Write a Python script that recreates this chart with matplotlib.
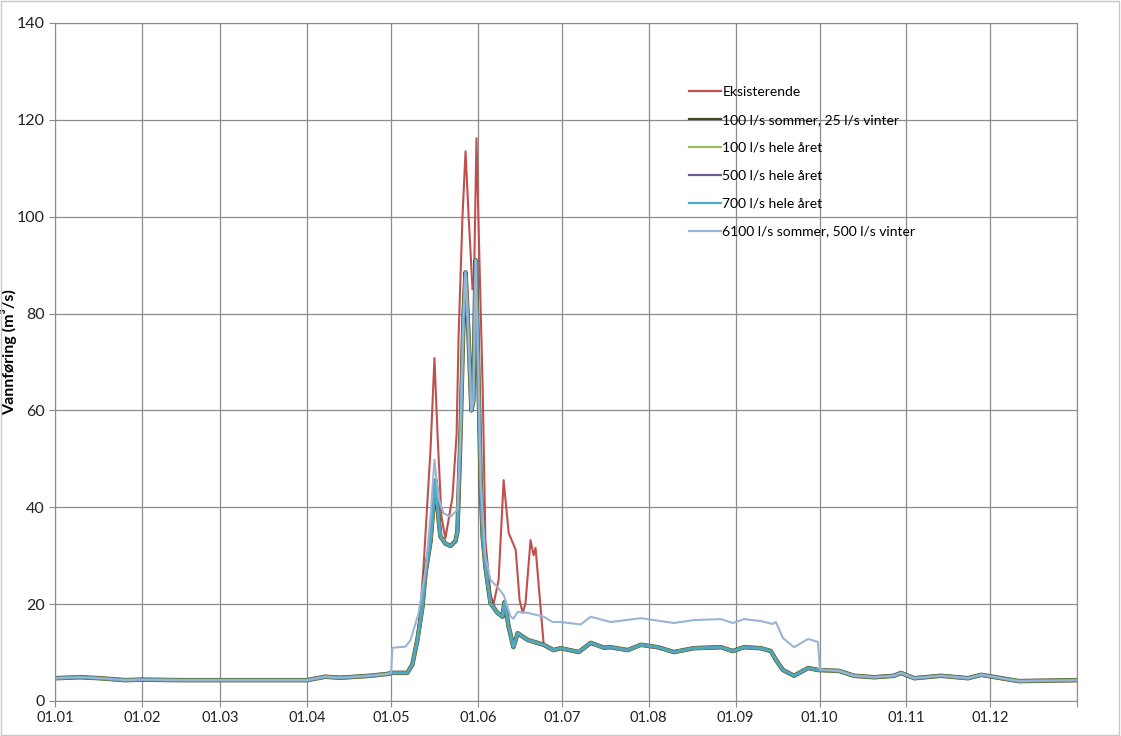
import numpy as np
import matplotlib
matplotlib.use("Agg")
import matplotlib.pyplot as plt
from matplotlib.patches import Rectangle

# day of year and flow (m3/s) shared by the regulated alternatives
base_day = [0, 8.9, 16, 25, 31, 44.7, 59, 73.3, 90, 96.5, 101.9, 112.6, 119, 120,
            125.8, 127.6, 129.4, 131.2, 132.3, 134.1, 135.1, 135.9, 136.9, 137.6,
            139.4, 141.2, 143, 143.7, 144.8, 145.9, 146.6, 147.7, 148.7, 149.4,
            150.2, 150.9, 152, 152.7, 153.7, 155.5, 158, 159.8, 160.5, 162, 163.7,
            165.2, 168.8, 174.5, 178, 180.5, 187, 191.3, 196, 198.4, 204.5, 209.2,
            215.2, 221, 228.1, 237.8, 242, 246, 252, 255.6, 257.4, 259.9, 263.9,
            268.9, 272.4, 280, 285.3, 292.5, 299.6, 302, 306.8, 316.4, 326, 330.7,
            337.9, 344, 365]
base_flow = [4.7, 4.9, 4.7, 4.3, 4.4, 4.3, 4.3, 4.3, 4.3, 5.0, 4.8, 5.2, 5.6, 5.8,
             5.8, 7.5, 12.6, 19.4, 26.4, 33, 40, 45.5, 38, 34,
             32.5, 32, 33, 35, 55, 80, 88.5, 75, 60, 62,
             91, 75, 45, 34, 27.7, 20.2, 18.2, 17.4, 20.4, 15.3, 11.1,
             14, 12.6, 11.6, 10.5, 10.9, 10.1, 12, 11, 11.1, 10.5, 11.6,
             11.1, 10.1, 10.9, 11.1, 10.3, 11.1, 10.9, 10.3, 8.5, 6.4, 5.2,
             6.8, 6.4, 6.2, 5.2, 4.9, 5.2, 5.8, 4.7, 5.2, 4.7, 5.4,
             4.7, 4.1, 4.3]

# existing situation, only where it departs from the regulated curve
red_day = [127.6, 129.4, 130.5, 131.6, 134.1, 135.5, 136.6, 138, 139.4, 141.9,
           143.4, 144.1, 145.5, 146.6, 147.7, 149.1, 149.6, 150.5, 151.6, 152.7,
           153.7, 155.5, 156.6, 158.4, 160.2, 162, 164.5, 165.9, 167, 168,
           169.8, 170.9, 171.6, 174.5]
red_flow = [7.5, 13, 19, 27.7, 52, 70.8, 55, 38, 33.6, 42,
            55, 75, 100, 113.5, 100, 85, 86, 116.2, 90, 65,
            33, 22, 20, 25, 45.6, 34.7, 31.2, 20.8, 18.2, 20.2,
            33.2, 30.1, 31.6, 11.6]

# 6100 l/s summer alternative, where it departs from the regulated curve
hi_day = [120, 120.5, 125.1, 126.9, 129.8, 132.3, 134.1, 135.5, 136.9, 138.7,
          141.2, 143.7, 144.8, 145.9, 146.6, 147.7, 148.7, 149.4, 150.2, 150.9,
          152, 153.7, 155.5, 158, 160.2, 162.7, 163.7, 165.2, 168.8, 174.5,
          177.7, 180.5, 187.7, 191.3, 198.4, 209.2, 221, 228.1, 237.8, 242,
          246, 252, 256.3, 257.4, 259.9, 263.9, 268.9, 272.4, 273.1]
hi_flow = [5.8, 11, 11.2, 12.5, 18, 27, 38, 49.8, 42, 38.8,
           38, 39.5, 55, 80, 88.5, 75, 60, 62, 91, 75,
           45, 29.7, 25, 23.5, 21.9, 17.4, 17, 18.4, 18.2, 17.4,
           16.3, 16.3, 15.8, 17.4, 16.3, 17.1, 16.1, 16.7, 16.9, 16.1,
           16.9, 16.5, 15.9, 16.3, 13, 11.1, 12.8, 12.2, 6.5]

month_days = [0, 31, 59, 90, 120, 151, 181, 212, 243, 273, 304, 334, 365]
month_labels = ["01.01", "01.02", "01.03", "01.04", "01.05", "01.06", "01.07",
                "01.08", "01.09", "01.10", "01.11", "01.12", ""]

labels = ["Eksisterende", "100 l/s sommer, 25 l/s vinter", "100 l/s hele året",
          "500 l/s hele året", "700 l/s hele året", "6100 l/s sommer, 500 l/s vinter"]
colors = ["#c0504d", "#3d4a22", "#9bbb59", "#6a5d88", "#4bacc6", "#9ab4d6"]
widths = [1.5, 3.2, 2.4, 2.0, 1.8, 1.5]


def splice(day, flow, part_day, part_flow):
    """replace the part of the regulated curve covered by part_day"""
    day = np.asarray(day)
    flow = np.asarray(flow)
    keep = (day < part_day[0]) | (day > part_day[-1])
    d = np.concatenate([day[keep], part_day])
    f = np.concatenate([flow[keep], part_flow])
    order = np.argsort(d, kind="stable")
    return d[order], f[order]


red_x, red_y = splice(base_day, base_flow, red_day, red_flow)
hi_x, hi_y = splice(base_day, base_flow, hi_day, hi_flow)

plt.rcParams["font.family"] = ["Lato", "DejaVu Sans"]
fig = plt.figure(figsize=(11.21, 7.36), dpi=100)
ax = fig.add_axes([0.049, 0.0476, 0.912, 0.9212])

series = [(red_x, red_y), (base_day, base_flow), (base_day, base_flow),
          (base_day, base_flow), (base_day, base_flow), (hi_x, hi_y)]
for (x, y), lab, c, w in zip(series, labels, colors, widths):
    ax.plot(x, y, color=c, lw=w, label=lab)

ax.set_xlim(0, 365)
ax.set_ylim(0, 140)
ax.set_xticks(month_days)
ax.set_xticklabels(month_labels)
ax.set_yticks(range(0, 141, 20))
ax.grid(True, color="#8c8c8c", lw=0.9)
ax.set_axisbelow(True)
for s in ax.spines.values():
    s.set_color("#8c8c8c")
ax.tick_params(colors="#8c8c8c", labelcolor="#222222", length=4)
ax.tick_params(axis="x", labelsize=10.5)
ax.tick_params(axis="y", labelsize=11.5)
ax.set_ylabel("Vannføring (m³/s)", fontsize=11.5, fontweight="bold")
ax.yaxis.set_label_coords(-0.037, 0.515)

leg = ax.legend(loc="upper left", bbox_to_anchor=(0.608, 0.925), frameon=False,
                fontsize=10, labelspacing=1.14, handlelength=2.3, handletextpad=0.1)
for line in leg.get_lines():
    line.set_linewidth(1.6)

fig.patches.append(Rectangle((0.001, 0.001), 0.997, 0.997, transform=fig.transFigure,
                             fill=False, edgecolor="#c8c8c8", lw=1))

fig.savefig("out.png", dpi=100)
